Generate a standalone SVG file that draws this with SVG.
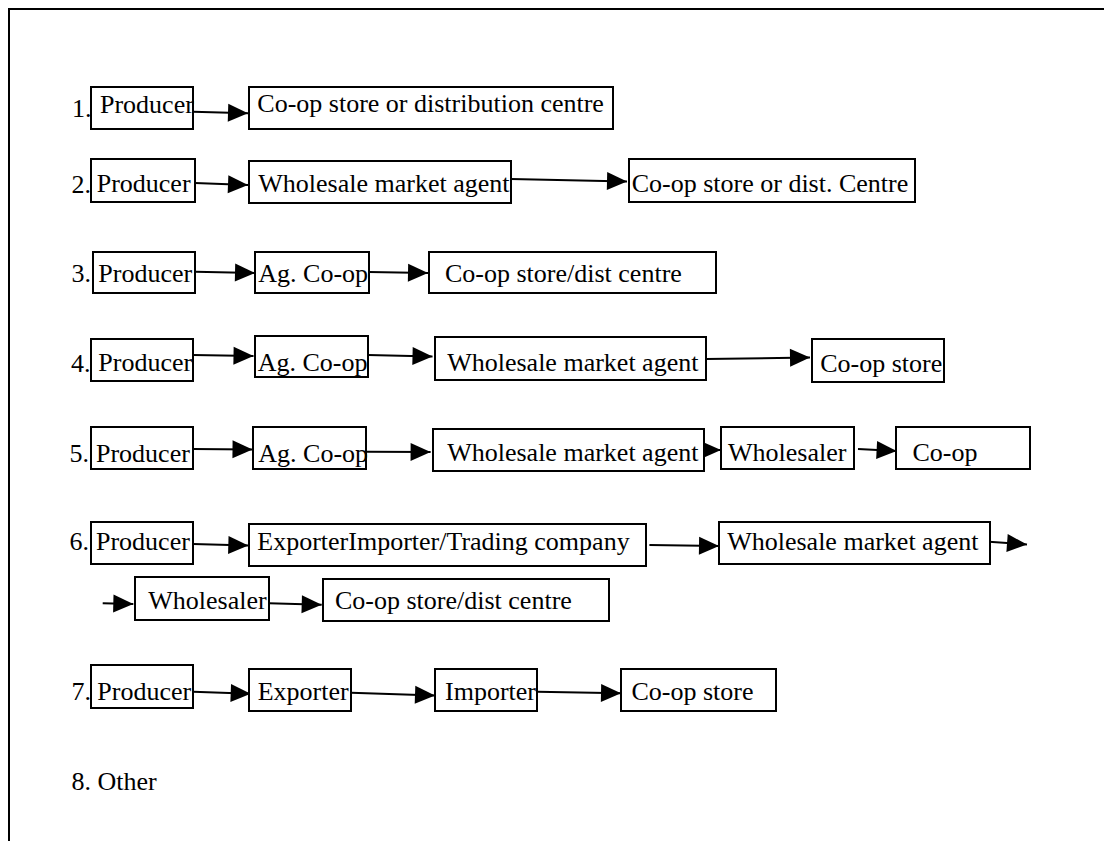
<svg xmlns="http://www.w3.org/2000/svg" width="1104" height="841" viewBox="0 0 1104 841">
  <style>
    .box { fill: #ffffff; stroke: #000000; stroke-width: 2; }
    .lbl { font-family: "Liberation Serif", "Times New Roman", serif; font-size: 26px; fill: #000000; }
    .num { font-family: "Liberation Serif", "Times New Roman", serif; font-size: 26px; fill: #000000; }
    .conn line { stroke: #000000; stroke-width: 2; fill: none; marker-end: url(#head); }
    .conn line.small { marker-end: url(#headSmall); }
    .frame { stroke: #000000; stroke-width: 2; fill: none; }
  </style>
  <defs>
    <marker id="head" markerUnits="userSpaceOnUse" markerWidth="21" markerHeight="19" refX="20" refY="9" orient="auto" overflow="visible">
      <path d="M0,0 L20,9 L0,18 Z" fill="#000000"/>
    </marker>
    <marker id="headSmall" markerUnits="userSpaceOnUse" markerWidth="18" markerHeight="16" refX="17" refY="7.5" orient="auto" overflow="visible">
      <path d="M0,0 L17,7.5 L0,15 Z" fill="#000000"/>
    </marker>
  </defs>

  <rect width="1104" height="841" fill="#ffffff"/>

  <!-- page border: top rule and left rule -->
  <path class="frame" d="M9,842 L9,9 L1104,9"/>

  <!-- route numbers -->
  <g id="numbers">
    <text class="num" x="72" y="117">1.</text>
    <text class="num" x="71.5" y="192.5">2.</text>
    <text class="num" x="71.5" y="281.5">3.</text>
    <text class="num" x="71" y="371.5">4.</text>
    <text class="num" x="69.5" y="461.5">5.</text>
    <text class="num" x="69.5" y="550">6.</text>
    <text class="num" x="71.5" y="700">7.</text>
    <text class="num" x="71.5" y="790">8. Other</text>
  </g>

  <!-- connectors -->
  <g id="connectors" class="conn">
    <!-- route 1 -->
    <line x1="193" y1="111.7" x2="248" y2="113.3"/>
    <!-- route 2 -->
    <line x1="195" y1="183" x2="248" y2="185"/>
    <line x1="511" y1="179" x2="627" y2="181.5"/>
    <!-- route 3 -->
    <line x1="195" y1="271.7" x2="255" y2="273"/>
    <line x1="369" y1="272" x2="428" y2="273"/>
    <!-- route 4 -->
    <line x1="193" y1="355" x2="253.5" y2="356"/>
    <line x1="368" y1="355" x2="432.5" y2="356.5"/>
    <line x1="706" y1="359" x2="810" y2="357.5"/>
    <!-- route 5 -->
    <line x1="193" y1="449" x2="252.5" y2="449.5"/>
    <line x1="366" y1="451.7" x2="430.6" y2="452"/>
    <line class="small" x1="703" y1="450" x2="721" y2="450"/>
    <line x1="858" y1="449" x2="896.6" y2="451"/>
    <!-- route 6 -->
    <line x1="193" y1="544" x2="248.3" y2="545.5"/>
    <line x1="649.4" y1="545" x2="719" y2="546"/>
    <line x1="989" y1="541.7" x2="1027" y2="544.5"/>
    <line x1="102.7" y1="603.3" x2="133.3" y2="604"/>
    <line x1="269" y1="603.3" x2="321.7" y2="604.7"/>
    <!-- route 7 -->
    <line x1="193" y1="691.7" x2="250.7" y2="693.8"/>
    <line x1="351" y1="692.7" x2="435" y2="695.5"/>
    <line x1="537" y1="691.7" x2="621" y2="693.3"/>
  </g>

  <!-- route 1 -->
  <g id="r1-producer"><rect class="box" x="91" y="87" width="102" height="42"/><text class="lbl" x="100" y="112.7">Producer</text></g>
  <g id="r1-coop"><rect class="box" x="249" y="87" width="364" height="42"/><text class="lbl" x="257.3" y="112">Co-op store or distribution centre</text></g>

  <!-- route 2 -->
  <g id="r2-producer"><rect class="box" x="91" y="159" width="104" height="43"/><text class="lbl" x="96.7" y="191.7">Producer</text></g>
  <g id="r2-agent"><rect class="box" x="249" y="161" width="262" height="42"/><text class="lbl" x="258.3" y="191.7">Wholesale market agent</text></g>
  <g id="r2-coop"><rect class="box" x="629" y="159" width="286" height="43"/><text class="lbl" x="631.7" y="191.7">Co-op store or dist. Centre</text></g>

  <!-- route 3 -->
  <g id="r3-producer"><rect class="box" x="93" y="252" width="102" height="41"/><text class="lbl" x="98.3" y="281.7">Producer</text></g>
  <g id="r3-agcoop"><rect class="box" x="255" y="252" width="114" height="41"/><text class="lbl" x="258.3" y="281.7">Ag. Co-op</text></g>
  <g id="r3-coop"><rect class="box" x="429" y="252" width="287" height="41"/><text class="lbl" x="445" y="281.7">Co-op store/dist centre</text></g>

  <!-- route 4 -->
  <g id="r4-producer"><rect class="box" x="91" y="339" width="102" height="42"/><text class="lbl" x="98.3" y="370.7">Producer</text></g>
  <g id="r4-agcoop"><rect class="box" x="255" y="336" width="113" height="41"/><text class="lbl" x="257.7" y="370.7">Ag. Co-op</text></g>
  <g id="r4-agent"><rect class="box" x="435" y="337" width="271" height="43"/><text class="lbl" x="447.2" y="370.7">Wholesale market agent</text></g>
  <g id="r4-coop"><rect class="box" x="812" y="339" width="132" height="43"/><text class="lbl" x="820.2" y="371.7">Co-op store</text></g>

  <!-- route 5 -->
  <g id="r5-producer"><rect class="box" x="91" y="427" width="102" height="42"/><text class="lbl" x="96" y="461.7">Producer</text></g>
  <g id="r5-agcoop"><rect class="box" x="253" y="427" width="113" height="42"/><text class="lbl" x="258.3" y="461.7">Ag. Co-op</text></g>
  <g id="r5-agent"><rect class="box" x="433" y="429" width="271" height="42"/><text class="lbl" x="447.2" y="460.7">Wholesale market agent</text></g>
  <g id="r5-wholesaler"><rect class="box" x="721" y="427" width="133" height="42"/><text class="lbl" x="728" y="460.7">Wholesaler</text></g>
  <g id="r5-coop"><rect class="box" x="896" y="427" width="134" height="42"/><text class="lbl" x="912.4" y="460.7">Co-op</text></g>

  <!-- route 6 -->
  <g id="r6-producer"><rect class="box" x="91" y="522" width="102" height="42"/><text class="lbl" x="96" y="550">Producer</text></g>
  <g id="r6-trader"><rect class="box" x="249" y="524" width="397" height="42"/><text class="lbl" x="257.3" y="550">ExporterImporter/Trading company</text></g>
  <g id="r6-agent"><rect class="box" x="719" y="522" width="271" height="42"/><text class="lbl" x="727.2" y="550">Wholesale market agent</text></g>
  <g id="r6-wholesaler"><rect class="box" x="135" y="577" width="134" height="43"/><text class="lbl" x="148.3" y="609.3">Wholesaler</text></g>
  <g id="r6-coop"><rect class="box" x="323" y="579" width="286" height="42"/><text class="lbl" x="335" y="609.3">Co-op store/dist centre</text></g>

  <!-- route 7 -->
  <g id="r7-producer"><rect class="box" x="91" y="665" width="102" height="43"/><text class="lbl" x="97.3" y="700">Producer</text></g>
  <g id="r7-exporter"><rect class="box" x="249" y="669" width="102" height="42"/><text class="lbl" x="257.7" y="700">Exporter</text></g>
  <g id="r7-importer"><rect class="box" x="435" y="669" width="102" height="42"/><text class="lbl" x="445" y="700">Importer</text></g>
  <g id="r7-coop"><rect class="box" x="621" y="669" width="155" height="42"/><text class="lbl" x="631.5" y="700">Co-op store</text></g>
</svg>
